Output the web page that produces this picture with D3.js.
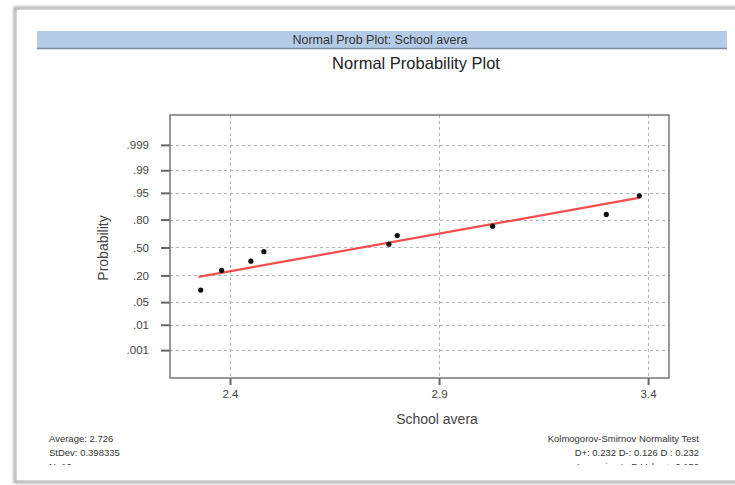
<!DOCTYPE html>
<html>
<head>
<meta charset="utf-8">
<script src="https://cdn.jsdelivr.net/npm/d3@7"></script>
<style>
  body { margin: 0; background: #fff; }
  svg { display: block; font-family: "Liberation Sans", Arial, sans-serif; }
</style>
</head>
<body>
<svg id="chart" width="735" height="485"></svg>
<script>
// data
var sampleValues = [2.330, 2.380, 2.450, 2.481, 2.780, 2.800, 3.028, 3.300, 3.379];
var sampleProbs  = [0.10, 0.245, 0.34, 0.45, 0.54, 0.64, 0.74, 0.84, 0.94];
var probTicks = [0.001, 0.01, 0.05, 0.20, 0.50, 0.80, 0.95, 0.99, 0.999];
var probLabels = [".001", ".01", ".05", ".20", ".50", ".80", ".95", ".99", ".999"];
var xTicks = [2.4, 2.9, 3.4];
var fitMean = 2.716, fitSd = 0.443, fitRange = [2.325, 3.381];
var statsLeft = ["Average: 2.726", "StDev: 0.398335", "N: 10"];
var statsRight = ["Kolmogorov-Smirnov Normality Test", "D+: 0.232  D-: 0.126  D : 0.232", "Approximate P-Value > 0.150"];

var svg = d3.select("#chart"),
	PLOT = {left: 170, top: 115, right: 669, bottom: 378};

// page frame with a soft shadow
var defs = svg.append("defs");
var blur = defs.append("filter").attr("id", "soft").attr("x", "-5%").attr("y", "-5%").attr("width", "110%").attr("height", "110%");
blur.append("feGaussianBlur").attr("stdDeviation", 1.6);
defs.append("clipPath").attr("id", "cut")
	.append("rect").attr("x", 0).attr("y", 0).attr("width", 735).attr("height", 465);

svg.append("rect").attr("x", 15).attr("y", 8).attr("width", 740).attr("height", 474)
	.attr("fill", "none").attr("stroke", "#9a9a9a").attr("stroke-width", 2.5).attr("filter", "url(#soft)");
svg.append("rect").attr("x", 17).attr("y", 10).attr("width", 730).attr("height", 470).attr("fill", "#fff");

// banner
svg.append("rect").attr("x", 37).attr("y", 31).attr("width", 690).attr("height", 17).attr("fill", "#b3cbe6");
svg.append("line").attr("x1", 37).attr("x2", 727).attr("y1", 48.5).attr("y2", 48.5)
	.attr("stroke", "#7d8a9c").attr("stroke-width", 1.5);
svg.append("text").attr("x", 380).attr("y", 44).attr("text-anchor", "middle")
	.attr("font-size", 12.5).attr("fill", "#333").text("Normal Prob Plot: School avera");

svg.append("text").attr("x", 416).attr("y", 69).attr("text-anchor", "middle")
	.attr("font-size", 16.5).attr("fill", "#222").text("Normal Probability Plot");

// scales
var x = d3.scaleLinear().domain([2.2565, 3.45]).range([PLOT.left, PLOT.right]);
var z = d3.scaleLinear().domain([-3.93, 3.99]).range([PLOT.bottom, PLOT.top]);
function y(p) { return z(probit(p)); }
function probit(p) {
	// Acklam's rational approximation of the inverse normal cdf
	var a = [-39.69683028665376, 220.9460984245205, -275.9285104469687, 138.3577518672690, -30.66479806614716, 2.506628277459239],
		b = [-54.47609879822406, 161.5858368580409, -155.6989798598866, 66.80131188771972, -13.28068155288572],
		c = [-0.007784894002430293, -0.3223964580411365, -2.400758277161838, -2.549732539343734, 4.374664141464968, 2.938163982698783],
		d = [0.007784695709041462, 0.3224671290700398, 2.445134137142996, 3.754408661907416],
		q, r;
	if (p < 0.02425) {
		q = Math.sqrt(-2 * Math.log(p));
		return (((((c[0]*q+c[1])*q+c[2])*q+c[3])*q+c[4])*q+c[5]) / ((((d[0]*q+d[1])*q+d[2])*q+d[3])*q+1);
	} else if (p > 1 - 0.02425) {
		q = Math.sqrt(-2 * Math.log(1 - p));
		return -(((((c[0]*q+c[1])*q+c[2])*q+c[3])*q+c[4])*q+c[5]) / ((((d[0]*q+d[1])*q+d[2])*q+d[3])*q+1);
	}
	q = p - 0.5; r = q * q;
	return (((((a[0]*r+a[1])*r+a[2])*r+a[3])*r+a[4])*r+a[5])*q / (((((b[0]*r+b[1])*r+b[2])*r+b[3])*r+b[4])*r+1);
}

// grid
var grid = svg.append("g").attr("stroke", "#b5b5b5").attr("stroke-width", 1).attr("stroke-dasharray", "3,3");
grid.selectAll(".h").data(probTicks).enter().append("line")
	.attr("x1", PLOT.left).attr("x2", PLOT.right)
	.attr("y1", function(d) { return Math.round(y(d)) + 0.5; })
	.attr("y2", function(d) { return Math.round(y(d)) + 0.5; });
grid.selectAll(".v").data(xTicks).enter().append("line")
	.attr("y1", PLOT.top).attr("y2", PLOT.bottom)
	.attr("x1", function(d) { return Math.round(x(d)) + 0.5; })
	.attr("x2", function(d) { return Math.round(x(d)) + 0.5; });

// axes
var yAxis = d3.axisLeft(d3.scaleLinear().domain(z.domain()).range(z.range()))
	.tickValues(probTicks.map(probit))
	.tickFormat(function(d, i) { return probLabels[i]; })
	.tickSize(9).tickPadding(12);
var gy = svg.append("g").attr("transform", "translate(" + PLOT.left + ",0)").call(yAxis);
var xAxis = d3.axisBottom(x).tickValues(xTicks).tickFormat(d3.format(".1f")).tickSize(7).tickPadding(5);
var gx = svg.append("g").attr("transform", "translate(0," + PLOT.bottom + ")").call(xAxis);
[gx, gy].forEach(function(g) {
	g.select(".domain").remove();
	g.selectAll(".tick line").attr("stroke", "#666").attr("stroke-width", 2);
	g.selectAll(".tick text").attr("font-size", 11.5).attr("fill", "#444")
		.attr("font-family", "'Liberation Sans', Arial, sans-serif");
});

svg.append("rect").attr("x", PLOT.left).attr("y", PLOT.top)
	.attr("width", PLOT.right - PLOT.left).attr("height", PLOT.bottom - PLOT.top)
	.attr("fill", "none").attr("stroke", "#777").attr("stroke-width", 1.5);

// axis titles
svg.append("text").attr("transform", "translate(108,248) rotate(-90)").attr("text-anchor", "middle")
	.attr("font-size", 14).attr("fill", "#444").text("Probability");
svg.append("text").attr("x", 437).attr("y", 424).attr("text-anchor", "middle")
	.attr("font-size", 14).attr("fill", "#444").text("School avera");

// fitted line
var fitLine = d3.line()
	.x(function(d) { return x(d); })
	.y(function(d) { return z((d - fitMean) / fitSd); });
svg.append("path").datum(fitRange).attr("d", fitLine)
	.attr("fill", "none").attr("stroke", "#f23a3a").attr("stroke-width", 2.2).attr("opacity", 0.9);

// points
svg.append("g").selectAll("circle").data(sampleValues).enter().append("circle")
	.attr("cx", function(d) { return x(d); })
	.attr("cy", function(d, i) { return y(sampleProbs[i]); })
	.attr("r", 2.6).attr("fill", "#111");

// stats footers
var foot = svg.append("g").attr("clip-path", "url(#cut)").attr("font-size", 9.5).attr("fill", "#333");
foot.selectAll(".l").data(statsLeft).enter().append("text")
	.attr("x", 49).attr("y", function(d, i) { return 442 + i * 14; }).text(function(d) { return d; });
foot.selectAll(".r").data(statsRight).enter().append("text")
	.attr("x", 699).attr("y", function(d, i) { return 442 + i * 14; }).attr("text-anchor", "end")
	.text(function(d) { return d; });
</script>
</body>
</html>
